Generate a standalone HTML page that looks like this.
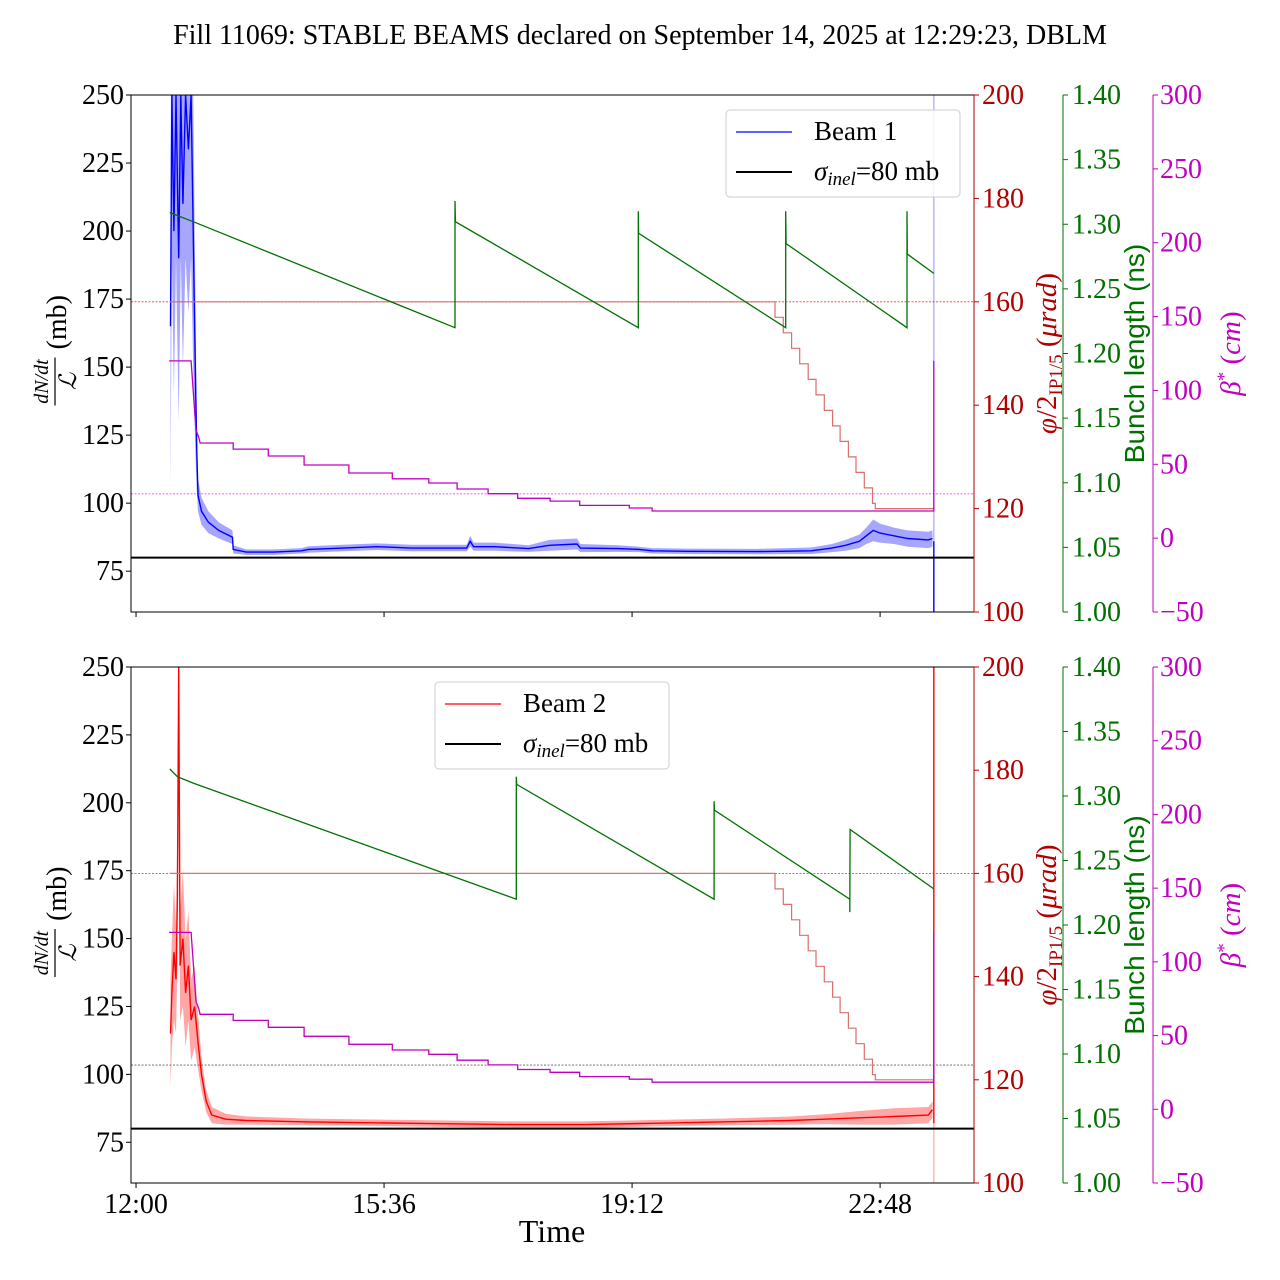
<!DOCTYPE html>
<html><head><meta charset="utf-8">
<style>
html,body{margin:0;padding:0;background:#fff;}
svg{display:block;font-family:"Liberation Serif","DejaVu Serif",serif;}
</style></head>
<body>
<svg id="chart" width="1280" height="1280" viewBox="0 0 1280 1280" xmlns="http://www.w3.org/2000/svg">
<text x="640" y="44" font-size="28" text-anchor="middle">Fill 11069: STABLE BEAMS declared on September 14, 2025 at 12:29:23, DBLM</text>
<g id="panels"></g>
<text x="552" y="1242" font-size="32" text-anchor="middle">Time</text>
</svg>
<script>
// ---- data ----
const xTickVals = [12, 15.6, 19.2, 22.8];
const xTickLabels = ["12:00", "15:36", "19:12", "22:48"];
const leftTicks = [75, 100, 125, 150, 175, 200, 225, 250];
const redTicks = [100, 120, 140, 160, 180, 200];
const greenTicks = [1.00, 1.05, 1.10, 1.15, 1.20, 1.25, 1.30, 1.35, 1.40];
const greenTickLabels = ["1.00","1.05","1.10","1.15","1.20","1.25","1.30","1.35","1.40"];
const magTicks = [-50, 0, 50, 100, 150, 200, 250, 300];
const magTickLabels = ["\u221250","0","50","100","150","200","250","300"];

const beam1Times = [12.50,12.52,12.55,12.58,12.62,12.65,12.68,12.72,12.76,12.80,12.83,12.86,12.88,12.90,12.95,13.05,13.20,13.40,13.41,13.6,14.0,14.4,14.5,15.0,15.5,16.0,16.8,16.85,16.9,17.2,17.7,18.0,18.4,18.45,19.0,19.3,19.5,20.0,21.0,21.8,22.1,22.3,22.5,22.6,22.7,22.8,23.0,23.2,23.5,23.56];
const beam1Values = [165,250,200,250,190,250,210,250,230,250,200,150,120,103,97,93,90,87.5,83,82,82,82.5,83,83.5,84,83.5,83.5,86,84,84,83.3,84.5,85,83.5,83.3,83,82.5,82.3,82.2,82.5,83.5,84.5,86,88,90,89,88,87,86.5,87];
const beam1Spread = [60,60,60,60,60,60,60,60,60,60,50,30,15,6,5,4,3,2.5,1.5,1,1,1,1.2,1.2,1.2,1.2,1.2,2,1.5,1.5,1.2,2,2,1.5,1.2,1,1,1,1,1.2,1.5,2,2.5,3,4,3.5,3,3,3,3];

const beam2Times = [12.50,12.52,12.55,12.58,12.60,12.62,12.64,12.68,12.72,12.76,12.80,12.85,12.90,12.95,13.02,13.1,13.3,13.6,14.5,16.0,17.5,18.5,19.5,20.5,21.5,22.0,22.5,23.0,23.5,23.56];
const beam2Values = [115,130,145,135,165,250,140,150,130,140,120,125,112,100,90,85,83.5,83,82.5,82,81.5,81.5,82,82.5,83,83.5,84,84.5,85,87];
const beam2Spread = [20,20,25,20,25,30,20,25,20,20,15,15,10,6,4,3,2,1.5,1.2,1.2,1.2,1.2,1.2,1.2,1.5,1.8,2.5,3,3,3];

const phiTimes = [12.49,21.274,21.274,21.395,21.395,21.516,21.516,21.633,21.633,21.756,21.756,21.87,21.87,21.99,21.99,22.11,22.11,22.22,22.22,22.34,22.34,22.45,22.45,22.57,22.57,22.69,22.69,22.73,22.73,23.58];
const phiValues = [160,160,157,157,154,154,151,151,148,148,145,145,142,142,139,139,136,136,133,133,130,130,127,127,124,124,121,121,120,120];

const betaTimes = [12.48,12.80,12.87,12.91,12.93,13.41,13.41,13.92,13.92,14.44,14.44,15.09,15.09,15.72,15.72,16.25,16.25,16.66,16.66,17.11,17.11,17.54,17.54,18.01,18.01,18.44,18.44,19.16,19.16,19.49,19.49,23.58,23.58];
const betaValues = [120,120,73,68.5,64.4,64.4,60.3,60.3,55.6,55.6,49.5,49.5,44.1,44.1,40.2,40.2,37.3,37.3,33.3,33.3,30.1,30.1,27.0,27.0,25.1,25.1,22.2,22.2,20.4,20.4,18.4,18.4,120];

const bl1Times = [12.49,12.83,16.63,16.63,16.635,19.29,19.29,19.295,21.43,21.43,21.435,23.19,23.19,23.19,23.195,23.58];
const bl1Values = [1.309,1.302,1.220,1.318,1.302,1.220,1.310,1.293,1.220,1.310,1.285,1.220,1.235,1.310,1.277,1.262];
const bl2Times = [12.49,12.60,12.83,17.52,17.52,17.525,20.39,20.39,20.395,22.36,22.36,22.365,23.58];
const bl2Values = [1.321,1.315,1.310,1.220,1.315,1.309,1.220,1.296,1.289,1.220,1.210,1.274,1.228];

const sigmaInel = 80;
const phiRef = 160;
const betaRef = 30;

// ---- layout ----
const NS = "http://www.w3.org/2000/svg";
const X0 = 131, X1 = 974, T0 = 11.927, T1 = 24.163;
function sx(t){ return X0 + (t - T0) / (T1 - T0) * (X1 - X0); }
const panelsEl = document.getElementById('panels');
function mk(tag, attrs, parent){
  const e = document.createElementNS(NS, tag);
  for (const k in attrs) e.setAttribute(k, attrs[k]);
  (parent || panelsEl).appendChild(e);
  return e;
}
function poly(ts, vs, fy){ return ts.map((t,i)=> sx(t).toFixed(1)+","+fy(vs[i]).toFixed(1)).join(" "); }

function drawPanel(top, bot, cfg){
  const g = mk('g', {});
  
  
  const H = bot - top;
  const yL = v => bot - (v - 60) / 190 * H;
  const yR = v => bot - (v - 100) / 100 * H;
  const yG = v => bot - (v - 1.0) / 0.4 * H;
  const yM = v => bot - (v + 50) / 350 * H;
  const clip = mk('clipPath', {id: 'clip' + top}, g);
  mk('rect', {x: X0, y: top, width: X1 - X0, height: H}, clip);
  const plot = mk('g', {'clip-path': 'url(#clip' + top + ')'}, g);
  
  

  const r1 = mk('line', {x1: X0, x2: X1, y1: yR(phiRef), y2: yR(phiRef), stroke: cfg.refPhiColor, 'stroke-width': 0.8, 'stroke-dasharray': '2,1.5'}, plot);
  
  
  const r2 = mk('line', {x1: X0, x2: X1, y1: yM(betaRef), y2: yM(betaRef), stroke: cfg.refBetaColor, 'stroke-width': 0.8, 'stroke-dasharray': '2,1.5'}, plot);
  
  

  const up = cfg.times.map((t,i)=> sx(t).toFixed(1)+","+yL(cfg.vals[i] + cfg.spread[i]).toFixed(1));
  const lo = cfg.times.map((t,i)=> sx(t).toFixed(1)+","+yL(cfg.vals[i] - cfg.spread[i]).toFixed(1)).reverse();
  const band = mk('polygon', {points: up.concat(lo).join(" "), fill: cfg.color, 'fill-opacity': 0.35, stroke: 'none'}, plot);
  
  
  const tEnd = cfg.times[cfg.times.length - 1] + 0.02;
  const vend = mk('line', {x1: sx(tEnd), x2: sx(tEnd), y1: yL(250), y2: yL(60), stroke: cfg.color, 'stroke-opacity': 0.35, 'stroke-width': 1.2}, plot);
  
  
  const vend2 = mk('line', {x1: sx(tEnd), x2: sx(tEnd), y1: yL(cfg.endLo), y2: yL(cfg.endHi), stroke: cfg.color, 'stroke-width': 1.4}, plot);
  
  
  const bl = mk('polyline', {points: poly(cfg.times, cfg.vals, yL), fill: 'none', stroke: cfg.color, 'stroke-width': 1.4}, plot);
  
  

  const s = mk('line', {x1: X0, x2: X1, y1: yL(sigmaInel), y2: yL(sigmaInel), stroke: '#000', 'stroke-width': 2}, plot);
  
  

  const ph = mk('polyline', {points: poly(phiTimes, phiValues, yR), fill: 'none', stroke: '#d9706b', 'stroke-width': 1.2}, plot);
  
  
  const be = mk('polyline', {points: poly(betaTimes, betaValues, yM), fill: 'none', stroke: '#c000c0', 'stroke-width': 1.3}, plot);
  
  
  const gl = mk('polyline', {points: poly(cfg.blT, cfg.blV, yG), fill: 'none', stroke: '#007000', 'stroke-width': 1.3}, plot);
  
  

  const fr = mk('rect', {x: X0, y: top, width: X1 - X0, height: H, fill: 'none', stroke: '#000', 'stroke-width': 1}, g);
  
  
  mk('line', {x1: X1, x2: X1, y1: top, y2: bot, stroke: '#b00000', 'stroke-width': 1}, g);
  const gs = mk('line', {x1: 1063, x2: 1063, y1: top, y2: bot, stroke: '#007000', 'stroke-width': 1}, g);
  
  
  const ms = mk('line', {x1: 1153, x2: 1153, y1: top, y2: bot, stroke: '#c000c0', 'stroke-width': 1}, g);
  
  

  const FS = 28;
  leftTicks.forEach(v => {
    const y = yL(v);
    mk('line', {x1: X0 - 5, x2: X0, y1: y, y2: y, stroke: '#000'}, g);
    const t = mk('text', {x: X0 - 7, y: y + 9, 'font-size': FS, 'text-anchor': 'end'}, g);
    
    
    t.textContent = v;
  });
  redTicks.forEach(v => {
    const y = yR(v);
    mk('line', {x1: X1, x2: X1 + 5, y1: y, y2: y, stroke: '#b00000'}, g);
    const t = mk('text', {x: X1 + 8, y: y + 9, 'font-size': FS, fill: '#b00000'}, g);
    
    
    t.textContent = v;
  });
  greenTicks.forEach((v,i) => {
    const y = yG(v);
    mk('line', {x1: 1063, x2: 1068, y1: y, y2: y, stroke: '#007000'}, g);
    const t = mk('text', {x: 1072, y: y + 9, 'font-size': FS, fill: '#007000'}, g);
    
    
    t.textContent = greenTickLabels[i];
  });
  magTicks.forEach((v,i) => {
    const y = yM(v);
    mk('line', {x1: 1153, x2: 1158, y1: y, y2: y, stroke: '#c000c0'}, g);
    const t = mk('text', {x: 1160, y: y + 9, 'font-size': FS, fill: '#c000c0'}, g);
    
    
    t.textContent = magTickLabels[i];
  });
  xTickVals.forEach((v,i) => {
    const x = sx(v);
    mk('line', {x1: x, x2: x, y1: bot, y2: bot + 5, stroke: '#000'}, g);
    if (cfg.showX) {
      const t = mk('text', {x: x, y: bot + 30, 'font-size': FS, 'text-anchor': 'middle'}, g);
      
      
      t.textContent = xTickLabels[i];
    }
  });

  const cy = (top + bot) / 2;
  const lt = mk('g', {transform: 'translate(58,' + cy + ') rotate(-90)'}, g);
  
  
  const a = mk('text', {x: -28, y: -10, 'font-size': 20, 'font-style': 'italic', 'text-anchor': 'middle'}, lt); a.textContent = 'dN/dt';
  mk('line', {x1: -52, x2: -4, y1: -3, y2: -3, stroke: '#000', 'stroke-width': 1.2}, lt);
  const b = mk('text', {x: -28, y: 18, 'font-size': 24, 'font-style': 'italic', 'text-anchor': 'middle'}, lt); b.textContent = '\u2112';
  const c = mk('text', {x: 4, y: 8, 'font-size': 28}, lt); c.textContent = '(mb)';

  const rt = mk('text', {transform: 'translate(1056,' + cy + ') rotate(-90)', 'font-size': 29, fill: '#b00000', 'text-anchor': 'middle'}, g);
  
  
  rt.innerHTML = '<tspan font-style="italic">\u03c6</tspan>/2<tspan font-size="19" dy="6">IP1/5</tspan><tspan dy="-6"> (</tspan><tspan font-style="italic">\u03bcrad</tspan>)';
  const gt = mk('text', {transform: 'translate(1144,' + cy + ') rotate(-90)', 'font-size': 28, fill: '#007000', 'text-anchor': 'middle', 'font-family': '"Liberation Sans", sans-serif'}, g);
  
  
  gt.textContent = 'Bunch length (ns)';
  const mt = mk('text', {transform: 'translate(1240,' + cy + ') rotate(-90)', 'font-size': 29, fill: '#c000c0', 'text-anchor': 'middle'}, g);
  
  
  mt.innerHTML = '<tspan font-style="italic">\u03b2</tspan><tspan dy="-10" font-size="19">*</tspan><tspan dy="10"> (</tspan><tspan font-style="italic">cm</tspan>)';

  const L = mk('g', {}, g);
  
  
  mk('rect', {x: cfg.lx, y: top + 15, width: 234, height: 87, rx: 4, fill: '#fff', 'fill-opacity': 0.85, stroke: '#ccc'}, L);
  const e1 = mk('line', {x1: cfg.lx + 10, x2: cfg.lx + 66, y1: top + 37, y2: top + 37, stroke: cfg.color, 'stroke-width': 1.2}, L);
  
  
  const t1 = mk('text', {x: cfg.lx + 88, y: top + 45, 'font-size': 27}, L); t1.textContent = cfg.label;
  const e2 = mk('line', {x1: cfg.lx + 10, x2: cfg.lx + 66, y1: top + 77, y2: top + 77, stroke: '#000', 'stroke-width': 2}, L);
  
  
  const t2 = mk('text', {x: cfg.lx + 88, y: top + 85, 'font-size': 27}, L);
  t2.innerHTML = '<tspan font-style="italic">\u03c3</tspan><tspan font-style="italic" font-size="19" dy="5">inel</tspan><tspan dy="-5">=80 mb</tspan>';
}

drawPanel(95, 612, {name: 'beam1-panel', beamName: 'beam1', color: '#0000ff', times: beam1Times, vals: beam1Values, spread: beam1Spread, blT: bl1Times, blV: bl1Values, refPhiColor: '#e04040', refBetaColor: '#ff40ff', lx: 726, label: 'Beam 1', showX: false, endLo: 60, endHi: 86});
drawPanel(667, 1183, {name: 'beam2-panel', beamName: 'beam2', color: '#ff0000', times: beam2Times, vals: beam2Values, spread: beam2Spread, blT: bl2Times, blV: bl2Values, refPhiColor: '#606060', refBetaColor: '#606060', lx: 435, label: 'Beam 2', showX: true, endLo: 82, endHi: 250});
</script>
</body></html>
